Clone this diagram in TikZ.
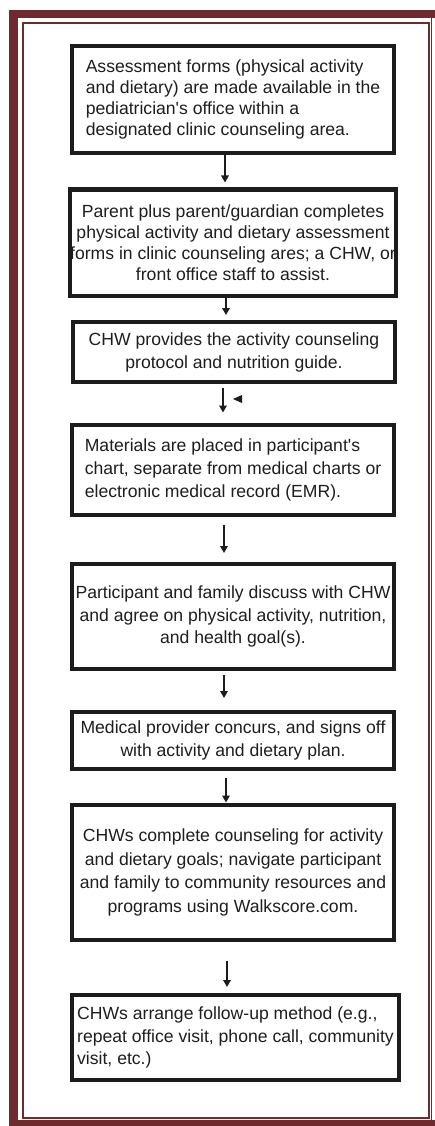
\documentclass[tikz,border=0pt]{standalone}
\usepackage{fontspec}
\setmainfont{Liberation Sans}
\usetikzlibrary{arrows.meta}
\definecolor{maroon}{RGB}{110,42,45}
\definecolor{boxc}{RGB}{28,28,28}
\definecolor{textc}{RGB}{30,30,30}
\begin{document}
\begin{tikzpicture}[x=1pt,y=-1pt,
  flowbox/.style={draw=boxc, line width=4pt, minimum width=322pt, inner sep=0pt, text=textc},
  fs/.style={font=\fontsize{17.6}{#1}\selectfont},
  flowarrow/.style={draw=boxc, line width=1.6pt, -{Triangle[width=7.5pt,length=7pt]}}]
\useasboundingbox (0,0) rectangle (435,1126);
\fill[white] (0,0) rectangle (435,1126);
% frame
\fill[maroon] (9,10) rectangle (18,1126);
\fill[maroon] (9,10) rectangle (435,18);
\fill[maroon] (9,1120) rectangle (435,1126);
\draw[maroon, line width=1.5pt] (431.5,18) -- (431.5,1120);
\draw[maroon, line width=2pt] (22.5,23) rectangle (428.5,1117.5);
% boxes
\node[flowbox, minimum height=107pt, align=left, fs=21] (b1) at (233,99.5)
  {Assessment forms (physical activity\\and dietary) are made available in the\\pediatrician\textquotesingle s office within a\\designated clinic counseling area.};
\node[flowbox, minimum height=106pt, align=center, fs=21] (b2) at (233,242.5)
  {Parent plus parent/guardian completes\\physical activity and dietary assessment\\forms in clinic counseling ares; a CHW, or\\front office staff to assist.};
\node[flowbox, minimum height=60pt, align=center, fs=23] (b3) at (234,352)
  {CHW provides the activity counseling\\protocol and nutrition guide.};
\node[flowbox, minimum height=90.5pt, align=left, fs=23] (b4) at (233,469.75)
  {Materials are placed in participant\textquotesingle s\\chart, separate from medical charts or\\electronic medical record (EMR).};
\node[flowbox, minimum height=105pt, align=center, fs=22.5] (b5) at (233,616.5)
  {Participant and family discuss with CHW\\and agree on physical activity, nutrition,\\and health goal(s).};
\node[flowbox, minimum height=57pt, align=center, fs=23] (b6) at (233,740.5)
  {Medical provider concurs, and signs off\\with activity and dietary plan.};
\node[flowbox, minimum height=135.5pt, align=center, fs=23.5] (b7) at (233,872.25)
  {CHWs complete counseling for activity\\and dietary goals; navigate participant\\and family to community resources and\\programs using Walkscore.com.};
\node[flowbox, minimum width=327pt, minimum height=85pt, align=left, fs=22.5] (b8) at (235.5,1037.5)
  {CHWs arrange follow-up method (e.g.,\\repeat office visit, phone call, community\\visit, etc.)};
% arrows
\draw[flowarrow, shorten >=5pt] ([xshift=-8pt]b1.south) -- ([xshift=-8pt]b2.north);
\draw[flowarrow, shorten >=5pt] ([xshift=-7pt]b2.south) -- ([xshift=-7pt]b2.south |- b3.north);
\draw[flowarrow, shorten <=4pt, shorten >=10pt] ([xshift=-10pt]b2.south |- b3.south) -- ([xshift=-10pt]b4.north);
\fill[boxc] (233,399) -- (242,395) -- (242,403) -- cycle;
\draw[flowarrow, shorten <=8pt, shorten >=9pt] ([xshift=-9pt]b4.south) -- ([xshift=-9pt]b5.north);
\draw[flowarrow, shorten <=4pt, shorten >=12pt] ([xshift=-9pt]b5.south) -- ([xshift=-9pt]b6.north);
\draw[flowarrow, shorten <=7pt] ([xshift=-7pt]b6.south) -- ([xshift=-7pt]b7.north);
\draw[flowarrow, shorten <=19pt, shorten >=6pt] ([xshift=-6pt]b7.south) -- ([xshift=-6pt]b7.south |- b8.north);
\end{tikzpicture}
\end{document}
